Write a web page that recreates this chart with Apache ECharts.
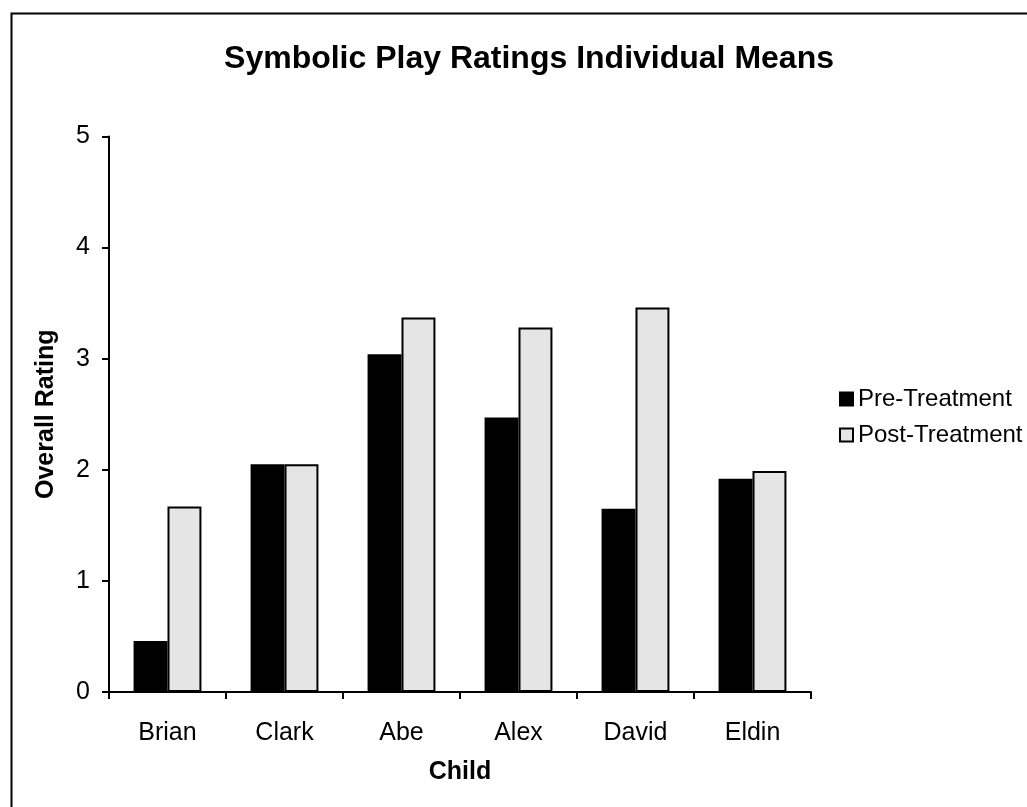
<!DOCTYPE html>
<html>
<head>
<meta charset="utf-8">
<script src="https://cdn.jsdelivr.net/npm/echarts@6/dist/echarts.min.js"></script>
<style>
  html, body { margin: 0; padding: 0; background: #fff; }
  #chart { width: 1027px; height: 807px; }
</style>
</head>
<body>
<div id="chart"></div>
<script>
// Symbolic play ratings: mean per child, before and after treatment
const children = ['Brian', 'Clark', 'Abe', 'Alex', 'David', 'Eldin'];
const preTreatment = [0.46, 2.05, 3.04, 2.47, 1.65, 1.92];
const postTreatment = [1.67, 2.05, 3.37, 3.28, 3.46, 1.99];
const yTicks = [0, 1, 2, 3, 4, 5];

const font = 'Arial, "Liberation Sans", Helvetica, sans-serif';
const chart = echarts.init(document.getElementById('chart'), null, { renderer: 'canvas' });

chart.setOption({
  backgroundColor: '#fff',
  animation: false,
  textStyle: { fontFamily: font, color: '#000' },
  title: {
    text: 'Symbolic Play Ratings Individual Means',
    left: 524,
    textAlign: 'center',
    top: 38,
    textStyle: { fontFamily: font, fontSize: 32, fontWeight: 'bold', color: '#000' }
  },
  legend: {
    orient: 'vertical',
    left: 839,
    top: 387,
    padding: 0,
    itemWidth: 13,
    itemHeight: 13,
    itemGap: 12,
    icon: 'rect',
    textStyle: { fontFamily: font, fontSize: 24, color: '#000' },
    data: ['Pre-Treatment', 'Post-Treatment']
  },
  grid: { left: 109, right: 216, top: 136.5, bottom: 115, containLabel: false },
  xAxis: {
    type: 'category',
    data: children,
    name: 'Child',
    nameLocation: 'middle',
    nameGap: 68,
    nameTextStyle: { fontFamily: font, fontSize: 25, fontWeight: 'bold', color: '#000' },
    axisLine: { lineStyle: { color: '#000', width: 2 } },
    axisTick: { show: true, length: 7, lineStyle: { color: '#000', width: 2 } },
    axisLabel: { fontFamily: font, fontSize: 25, color: '#000', margin: 29 },
    splitLine: { show: false }
  },
  yAxis: {
    type: 'value',
    min: yTicks[0],
    max: yTicks[yTicks.length - 1],
    interval: 1,
    name: 'Overall Rating',
    nameLocation: 'middle',
    nameGap: 50,
    nameTextStyle: { fontFamily: font, fontSize: 25, fontWeight: 'bold', color: '#000' },
    axisLine: { show: true, lineStyle: { color: '#000', width: 2 } },
    axisTick: { show: true, length: 7, lineStyle: { color: '#000', width: 2 } },
    axisLabel: { fontFamily: font, fontSize: 25, color: '#000', margin: 19 },
    splitLine: { show: false }
  },
  series: [
    {
      name: 'Pre-Treatment',
      type: 'bar',
      data: preTreatment,
      barGap: '0%',
      barCategoryGap: '42%',
      itemStyle: { color: '#000', borderColor: '#000', borderWidth: 1.5 }
    },
    {
      name: 'Post-Treatment',
      type: 'bar',
      data: postTreatment,
      itemStyle: { color: '#e5e5e5', borderColor: '#000', borderWidth: 2 }
    }
  ],
  graphic: [
    {
      type: 'rect',
      left: 9,
      top: 11,
      shape: { width: 1040, height: 820 },
      style: { fill: 'none', stroke: '#000', lineWidth: 2 },
      silent: true
    }
  ]
});
</script>
</body>
</html>
